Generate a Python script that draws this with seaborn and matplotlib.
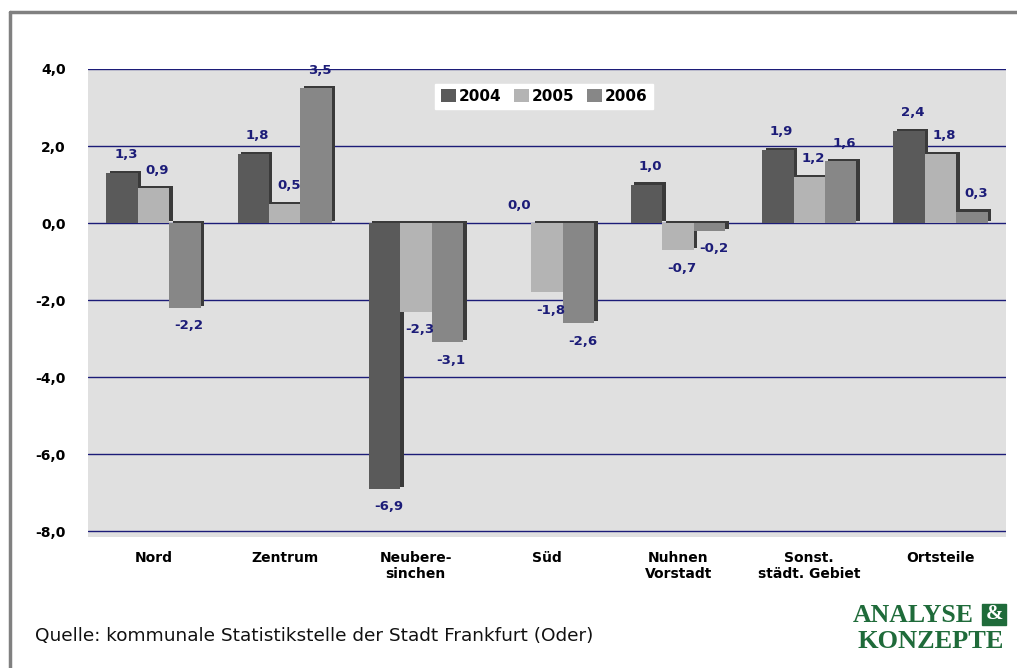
import matplotlib
matplotlib.use("Agg")
import matplotlib.pyplot as plt
import matplotlib.patheffects as pe
from matplotlib.patches import Rectangle
from matplotlib.ticker import FuncFormatter
import numpy as np
import pandas as pd
import seaborn as sns

# ── data ──────────────────────────────────────────────────────────────────────
districts = ["Nord", "Zentrum", "Neubere-\nsinchen", "Süd", "Nuhnen\nVorstadt",
             "Sonst.\nstädt. Gebiet", "Ortsteile"]
years = ["2004", "2005", "2006"]
v2004 = [1.3, 1.8, -6.9, 0.0, 1.0, 1.9, 2.4]
v2005 = [0.9, 0.5, -2.3, -1.8, -0.7, 1.2, 1.8]
v2006 = [-2.2, 3.5, -3.1, -2.6, -0.2, 1.6, 0.3]
yticks = [-8, -6, -4, -2, 0, 2, 4]

COLORS = ["#5a5a5a", "#b4b4b4", "#878787"]
NAVY = "#1c1c78"

df = pd.DataFrame({
    "Gebiet": districts * 3,
    "Jahr": [y for y in years for _ in districts],
    "Wert": v2004 + v2005 + v2006,
})

# ── plot ──────────────────────────────────────────────────────────────────────
sns.set_theme(style="white")
plt.rcParams["font.family"] = ["DejaVu Sans"]
plt.rcParams["text.color"] = "black"
plt.rcParams["xtick.color"] = "black"
plt.rcParams["ytick.color"] = "black"

fig = plt.figure(figsize=(10.17, 6.68), dpi=100)
ax = fig.add_axes([88 / 1017, 1 - 537 / 668, (1006 - 88) / 1017, (537 - 69) / 668])
ax.set_facecolor("#e0e0e0")

sns.barplot(data=df, x="Gebiet", y="Wert", hue="Jahr", palette=COLORS,
            width=0.72, ax=ax, saturation=1, zorder=3, legend=True)

# fake 3D side shadow
for bar in ax.patches:
    bar.set_edgecolor("none")
    bar.set_path_effects([pe.SimplePatchShadow(offset=(2.5, 1.5), shadow_rgbFace="#3a3a3a", alpha=1),
                          pe.Normal()])

# data labels
for cont in ax.containers:
    labels = [f"{v:.1f}".replace(".", ",") for v in cont.datavalues]
    for bar, lab, v in zip(cont, labels, cont.datavalues):
        x = bar.get_x() + bar.get_width() / 2 + 0.03
        if v >= 0:
            ax.text(x, v + 0.3, lab, ha="center", va="bottom", color=NAVY,
                    fontsize=9.5, fontweight="bold", zorder=5)
        else:
            ax.text(x, v - 0.3, lab, ha="center", va="top", color=NAVY,
                    fontsize=9.5, fontweight="bold", zorder=5)

ax.set_ylim(-8.15, 4.0)
ax.set_yticks(yticks)
ax.yaxis.set_major_formatter(FuncFormatter(lambda v, p: f"{v:.1f}".replace(".", ",")))
for t in yticks:
    ax.axhline(t, color=NAVY, lw=1, zorder=1)
ax.tick_params(axis="y", length=0, pad=16, labelsize=10, labelcolor="black")
ax.tick_params(axis="x", length=0, pad=10, labelsize=10, labelcolor="black")
for lab in ax.get_yticklabels() + ax.get_xticklabels():
    lab.set_fontweight("bold")
ax.set_xlabel("")
ax.set_ylabel("")
for s in ax.spines.values():
    s.set_visible(False)

leg = ax.legend(loc="upper center", bbox_to_anchor=(0.497, 0.985), ncol=3, frameon=True,
                fancybox=False, framealpha=1, edgecolor="white", handlelength=1.0,
                handleheight=0.9, handletextpad=0.2, columnspacing=0.8,
                borderpad=0.35, prop={"weight": "bold", "size": 11})
for h in leg.legend_handles:
    h.set_path_effects([])
for t in leg.get_texts():
    t.set_color("black")

# frame
fig.add_artist(plt.Line2D([10 / 1017, 10 / 1017], [0, 1 - 12 / 668], transform=fig.transFigure,
                          color="#808080", lw=2.5))
fig.add_artist(plt.Line2D([10 / 1017, 1], [1 - 12 / 668, 1 - 12 / 668], transform=fig.transFigure,
                          color="#808080", lw=2.5))

# source
fig.text(35 / 1017, 1 - 636 / 668, "Quelle: kommunale Statistikstelle der Stadt Frankfurt (Oder)",
         fontsize=13.3, va="center", ha="left", color="#111111")

# logo
GREEN = "#1f6b3a"
serif = ["Liberation Serif", "DejaVu Serif"]
fig.text(853 / 1017, 1 - 615 / 668, "ANALYSE", fontsize=18.5, fontweight="bold", color=GREEN,
         family=serif, va="center", ha="left")
fig.add_artist(Rectangle((982 / 1017, 1 - 625 / 668), 24 / 1017, 21 / 668,
                         transform=fig.transFigure, color=GREEN))
fig.text(994 / 1017, 1 - 614 / 668, "&", fontsize=15, fontweight="bold", color="white",
         family=serif, va="center", ha="center")
fig.text(857 / 1017, 1 - 642 / 668, "KONZEPTE", fontsize=19, fontweight="bold", color=GREEN,
         family=serif, va="center", ha="left")

fig.savefig("out.png", dpi=100)
